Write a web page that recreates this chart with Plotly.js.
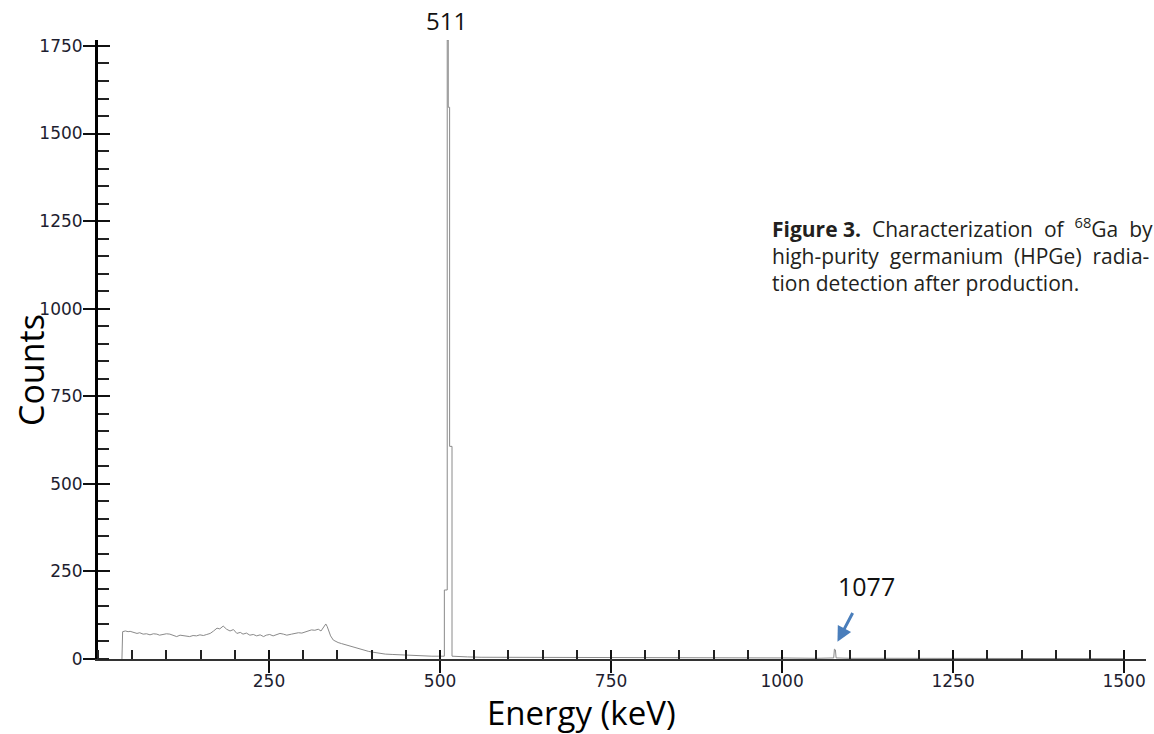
<!DOCTYPE html>
<html>
<head>
<meta charset="utf-8">
<script src="https://cdn.plot.ly/plotly-3.0.1.min.js"></script>
<style>html,body{margin:0;padding:0;background:#fff;overflow:hidden}#chart{width:1154px;height:734px}</style>
</head>
<body>
<div id="chart"></div>
<script>
// Energy (keV) of each read point of the HPGe spectrum
var energyKeV = [35,36,40,44,47,52,57,61,66,71,76,81,86,90,95,100,105,110,115,120,125,130,134,139,144,149,154,159,164,169,174,178,183,188,193,198,203,208,212,217,222,227,232,237,242,246,251,256,261,266,271,276,283,288,293,298,303,308,312,317,322,326,330,333,335,337,340,344,347,351,356,361,366,371,375,380,385,390,395,400,405,410,415,420,430,439,449,459,468,478,488,498,504,506.3,506.3,510.5,510.5,512,512,514,514,517.5,517.5,525,540,560,580,600,620,650,680,700,720,750,800,850,900,950,1000,1050,1072,1075.5,1076.5,1078,1079,1100,1150,1200,1250,1300,1350,1400,1450,1500];
// Counts at those energies
var counts = [0,78,80,78,79,76,73,75,71,72,69,72,71,68,70,72,71,67,64,68,67,66,64,67,66,69,67,70,73,80,88,86,94,85,80,84,73,76,71,74,68,70,66,69,64,68,70,66,69,73,71,68,71,73,75,74,77,80,83,82,85,80,92,100,93,81,66,54,50,47,44,41,38,35,33,31,27,24,22,20,18,16,15,14,13,12,11,10,10,9,8,8,8,8,197,197,1767,1767,1575,1575,607,607,8,7,6,5,5,5,4,4,4,5,4,3,3,3,3,3,3,2,3,3,28,26,3,2,2,2,1,1,1,1,1,1];

var xMajorTicks = [250,500,750,1000,1250,1500];
var yMajorTicks = [0,250,500,750,1000,1250,1500,1750];
var peakLabels = ["511","1077"];
var peakEnergies = [510,1077];
var xTitle = "Energy (keV)";
var yTitle = "Counts";
var captionLines = [
  "<b>Figure 3.</b>\u00a0\u00a0Characterization\u00a0\u00a0of\u00a0\u00a0<sup>68</sup>Ga\u00a0\u00a0by",
  "high-purity\u00a0\u00a0germanium\u00a0\u00a0(HPGe)\u00a0\u00a0radia-",
  "tion detection after production."
];

var tickFont = {family: "DejaVu Sans", size: 17, color: "#1e1e30"};
var XR = [0, 1532], YR = [0, 1767];

var traces = [
  {x: energyKeV, y: counts, type: "scatter", mode: "lines",
   line: {color: "#8a8a8a", width: 1}, hoverinfo: "x+y", showlegend: false},
  {x: [], y: [], xaxis: "x2", yaxis: "y2", type: "scatter", mode: "lines", showlegend: false}
];

function px2paperX(px){ return (px - 98) / 1048; }
function px2paperY(py){ return (659 - py) / 619; }

var annotations = [
  {x: peakEnergies[0], xref: "x", y: px2paperY(20), yref: "paper", xanchor: "center", yanchor: "middle",
   text: peakLabels[0], showarrow: false, font: {family: "Open Sans", size: 24, color: "#111"}},
  {x: 1081, y: 49, xref: "x", yref: "y", ax: 1123.5, ay: 207, axref: "x", ayref: "y",
   text: peakLabels[1], xanchor: "center", yanchor: "middle", font: {family: "Open Sans", size: 25, color: "#111"},
   showarrow: true, arrowhead: 2, arrowsize: 1, arrowwidth: 3, arrowcolor: "#4a7ebb", startstandoff: 9},
  {x: px2paperX(581), y: px2paperY(712), xref: "paper", yref: "paper", xanchor: "center", yanchor: "middle",
   text: xTitle, showarrow: false, font: {family: "Open Sans", size: 33, color: "#000"}},
  {x: px2paperX(31), y: px2paperY(370), xref: "paper", yref: "paper", xanchor: "center", yanchor: "middle",
   text: yTitle, textangle: -90, showarrow: false, font: {family: "Open Sans", size: 34, color: "#000"}},
  {x: px2paperX(770), y: px2paperY(255), xref: "paper", yref: "paper", xanchor: "left", yanchor: "middle",
   text: captionLines.join("<br>"), showarrow: false, align: "left",
   font: {family: "Open Sans", size: 21, color: "#231f20"}}
];

var layout = {
  width: 1154, height: 734,
  margin: {l: 98, r: 8, t: 40, b: 75, pad: 0},
  paper_bgcolor: "#fff", plot_bgcolor: "#fff",
  showlegend: false,
  xaxis: {range: XR, showgrid: false, zeroline: false, showline: true, linecolor: "#333", linewidth: 2,
    tickmode: "array", tickvals: xMajorTicks, ticks: "outside", ticklen: 12, tickwidth: 2, tickcolor: "#111",
    ticklabelstandoff: -6,
    tickfont: tickFont, minor: {dtick: 50, tick0: 0, ticks: "inside", ticklen: 9, tickwidth: 2, tickcolor: "#222"}},
  xaxis2: {range: XR, overlaying: "x", anchor: "y", side: "bottom", showgrid: false, zeroline: false, showline: false,
    tickmode: "array", tickvals: xMajorTicks, ticks: "inside", ticklen: 9, tickwidth: 2, tickcolor: "#111", showticklabels: false},
  yaxis: {range: YR, showgrid: false, zeroline: false, showline: true, linecolor: "#000", linewidth: 3,
    tickmode: "array", tickvals: yMajorTicks, ticks: "outside", ticklen: 12, tickwidth: 2, tickcolor: "#111",
    ticklabelstandoff: -3,
    tickfont: tickFont, minor: {dtick: 50, tick0: 0, ticks: "inside", ticklen: 11, tickwidth: 2, tickcolor: "#222"}},
  yaxis2: {range: YR, overlaying: "y", anchor: "x", side: "left", showgrid: false, zeroline: false, showline: false,
    tickmode: "array", tickvals: yMajorTicks, ticks: "inside", ticklen: 12, tickwidth: 2, tickcolor: "#111", showticklabels: false},
  annotations: annotations
};

Plotly.newPlot("chart", traces, layout, {displayModeBar: false, staticPlot: true});
</script>
</body>
</html>
